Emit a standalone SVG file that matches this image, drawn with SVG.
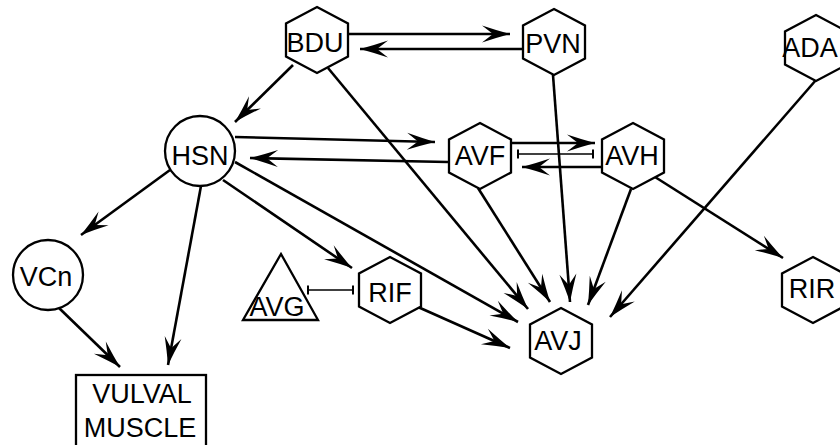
<svg xmlns="http://www.w3.org/2000/svg" width="840" height="445" viewBox="0 0 840 445">
<style>
.shape{fill:#fff;stroke:#000;stroke-width:2.3}
.lbl{font-family:"Liberation Sans",Arial,sans-serif;font-size:27px;fill:#000;text-anchor:middle}
.edge{fill:none;stroke:#000;stroke-width:2.6;marker-end:url(#ah)}
.inh{fill:none;stroke:#000;stroke-width:1.7;marker-start:url(#bar);marker-end:url(#bar)}
</style>
<defs>
<path id="hex" d="M0,-33 L31,-16.5 L31,16.5 L0,33 L-31,16.5 L-31,-16.5 Z"/>
<marker id="ah" markerUnits="userSpaceOnUse" viewBox="-30 -10 32 20" markerWidth="32" markerHeight="20" refX="0" refY="0" orient="auto">
<path d="M0,0 Q-13,-3.5 -28,-8.5 L-17,0 L-28,8.5 Q-13,3.5 0,0 Z" fill="#000"/>
</marker>
<marker id="bar" markerUnits="userSpaceOnUse" viewBox="-2 -6 4 12" markerWidth="4" markerHeight="12" refX="0" refY="0" orient="auto">
<line x1="0" y1="-4.5" x2="0" y2="4.5" stroke="#000" stroke-width="2"/>
</marker>
</defs>
<rect width="840" height="445" fill="#fff"/>
<g id="connectors">
<line class="edge" x1="348" y1="34" x2="510" y2="34"/>
<line class="edge" x1="522" y1="49" x2="360" y2="49"/>
<line class="edge" x1="293" y1="65" x2="235" y2="122"/>
<line class="edge" x1="328" y1="68" x2="528" y2="309"/>
<line class="edge" x1="553" y1="75" x2="570" y2="302"/>
<line class="edge" x1="816" y1="80" x2="610" y2="317"/>
<line class="edge" x1="478" y1="188" x2="550" y2="302"/>
<line class="edge" x1="631" y1="189" x2="588" y2="305"/>
<line class="edge" x1="655" y1="177" x2="783" y2="258"/>
<line class="edge" x1="602" y1="167" x2="522" y2="167"/>
<line class="edge" x1="512" y1="143" x2="595" y2="143"/>
<line class="inh" x1="518" y1="154" x2="593" y2="154"/>
<line class="edge" x1="235" y1="137" x2="435" y2="142"/>
<line class="edge" x1="448" y1="162" x2="250" y2="158"/>
<line class="edge" x1="170" y1="170" x2="81" y2="235"/>
<line class="edge" x1="201" y1="186" x2="168" y2="365"/>
<line class="edge" x1="59" y1="308" x2="120" y2="367"/>
<line class="edge" x1="223" y1="180" x2="352" y2="268"/>
<line class="edge" x1="235" y1="162" x2="518" y2="322"/>
<line class="inh" x1="308" y1="290" x2="353" y2="290"/>
<line class="edge" x1="418" y1="307" x2="510" y2="348"/>
</g>
<g id="BDU"><use href="#hex" class="shape" x="317" y="40"/><text class="lbl" x="315" y="52">BDU</text></g>
<g id="PVN"><use href="#hex" class="shape" x="554" y="42"/><text class="lbl" x="553" y="53">PVN</text></g>
<g id="ADA"><use href="#hex" class="shape" x="816" y="48"/><text class="lbl" x="810" y="57">ADA</text></g>
<g id="HSN"><circle class="shape" cx="200" cy="151" r="35"/><text class="lbl" x="200" y="165">HSN</text></g>
<g id="AVF"><use href="#hex" class="shape" x="480" y="156"/><text class="lbl" x="480" y="165">AVF</text></g>
<g id="AVH"><use href="#hex" class="shape" x="633" y="156"/><text class="lbl" x="632" y="165">AVH</text></g>
<g id="VCn"><circle class="shape" cx="48" cy="275" r="35"/><text class="lbl" x="46" y="286">VCn</text></g>
<g id="AVG"><polygon class="shape" points="281,254 243,320 318,320"/><text class="lbl" x="277" y="316">AVG</text></g>
<g id="RIF"><use href="#hex" class="shape" x="390" y="290"/><text class="lbl" x="390" y="302">RIF</text></g>
<g id="RIR"><use href="#hex" class="shape" x="813" y="290"/><text class="lbl" x="812" y="298">RIR</text></g>
<g id="AVJ"><use href="#hex" class="shape" x="561" y="341"/><text class="lbl" x="558" y="350">AVJ</text></g>
<g id="VULVAL_MUSCLE"><rect class="shape" x="76" y="375" width="130" height="75"/><text class="lbl" x="142" y="403">VULVAL</text><text class="lbl" x="140" y="437">MUSCLE</text></g>
</svg>
